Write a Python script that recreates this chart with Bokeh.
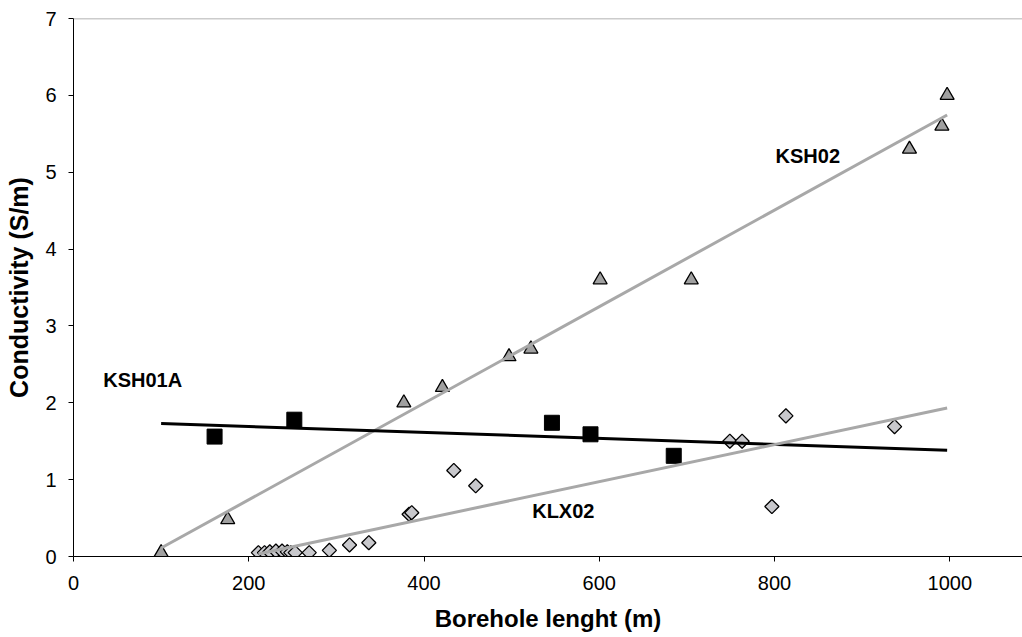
import numpy as np
from bokeh.plotting import figure
from bokeh.models import Range1d, FixedTicker, Span
from bokeh.core.properties import value
from bokeh.embed import file_html
from bokeh.resources import INLINE

# ---- data ----
ksh02_x = [100, 176, 377, 421, 497, 522, 601, 705, 954, 991, 997]
ksh02_y = [0.05, 0.48, 2.0, 2.2, 2.6, 2.7, 3.6, 3.6, 5.3, 5.6, 6.0]

ksh01a_x = [161, 252, 546, 590, 685]
ksh01a_y = [1.56, 1.78, 1.74, 1.59, 1.31]

klx02_x = [211, 218, 224, 231, 238, 244, 248, 253, 269, 292, 315, 337,
           383, 386, 434, 459, 749, 763, 797, 813, 937]
klx02_y = [0.05, 0.05, 0.06, 0.07, 0.07, 0.06, 0.05, 0.05, 0.05, 0.08, 0.15, 0.18,
           0.55, 0.57, 1.12, 0.92, 1.50, 1.50, 0.65, 1.83, 1.69]

# linear trendline extents (x from, x to) per series
trend_from = {"KSH02": 100, "KSH01A": 100, "KLX02": 211}
trend_to = {"KSH02": 997, "KSH01A": 997, "KLX02": 997}

label_text = ["KSH02", "KSH01A", "KLX02"]
label_x = [838, 79, 559]
label_y = [5.21, 2.29, 0.59]

x_ticks = [0, 200, 400, 600, 800, 1000]
y_ticks = [0, 1, 2, 3, 4, 5, 6, 7]

FONT = "Liberation Sans"

p = figure(width=1022, height=637, output_backend="svg", toolbar_location=None,
           x_range=Range1d(0, 1083), y_range=Range1d(0, 7),
           min_border_left=73, min_border_right=0, min_border_top=18,
           min_border_bottom=81)
p.outline_line_color = None
p.xgrid.visible = False
p.ygrid.visible = False
p.background_fill_color = "white"
p.border_fill_color = "white"

# top border of plot area
p.add_layout(Span(location=7, dimension="width", line_color="#999999", line_width=1.5))

# markers
p.scatter(ksh02_x, ksh02_y, marker="triangle", size=14, fill_color="#A0A0A0",
          line_color="black", line_width=1.3)
p.scatter(ksh01a_x, ksh01a_y, marker="square", size=15, fill_color="black",
          line_color="black", line_width=1)
p.scatter(klx02_x, klx02_y, marker="square", angle=np.pi / 4, size=10,
          fill_color="#C8C8CC", line_color="black", line_width=1.3)

# trendlines (least squares fit)
def trend(name, xs, ys, color, width):
    k, b = np.polyfit(xs, ys, 1)
    xx = [trend_from[name], trend_to[name]]
    yy = [k * v + b for v in xx]
    p.line(xx, yy, line_color=color, line_width=width)

trend("KSH02", ksh02_x, ksh02_y, "#A8A8A8", 3)
trend("KSH01A", ksh01a_x, ksh01a_y, "black", 3)
trend("KLX02", klx02_x, klx02_y, "#A8A8A8", 3)

# series labels
p.text(label_x, label_y, text=label_text, text_font=value(FONT),
       text_font_size="20px", text_font_style="bold", text_color="black",
       text_align="center", text_baseline="middle")

# axes
for ax in (p.xaxis[0], p.yaxis[0]):
    ax.axis_line_color = "black"
    ax.axis_line_width = 1
    ax.major_tick_line_color = "black"
    ax.major_tick_in = 0
    ax.major_tick_out = 5
    ax.minor_tick_line_color = None
    ax.major_label_text_font = FONT
    ax.major_label_text_font_size = "20px"
    ax.major_label_text_color = "black"
    ax.axis_label_text_font = FONT
    ax.axis_label_text_font_style = "bold"
    ax.axis_label_text_color = "black"

p.xaxis.ticker = FixedTicker(ticks=x_ticks)
p.yaxis.ticker = FixedTicker(ticks=y_ticks)
p.xaxis.axis_label = "Borehole lenght (m)"
p.yaxis.axis_label = "Conductivity (S/m)"
p.xaxis.axis_label_text_font_size = "24px"
p.yaxis.axis_label_text_font_size = "25px"
p.xaxis.major_label_standoff = 14
p.xaxis.axis_label_standoff = 12
p.yaxis.major_label_standoff = 12
p.yaxis.axis_label_standoff = 9

open("out.html", "w").write(file_html(p, INLINE))
